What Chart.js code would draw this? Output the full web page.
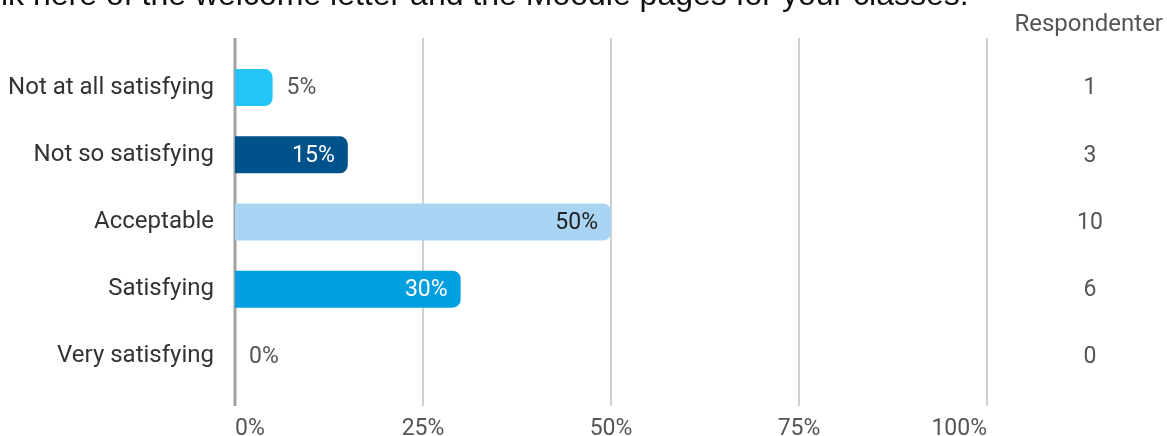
<!DOCTYPE html>
<html>
<head>
<meta charset="utf-8">
<script src="https://cdn.jsdelivr.net/npm/chart.js@4"></script>
<style>
  html, body { margin: 0; padding: 0; background: #fff; overflow: hidden; }
</style>
</head>
<body>
<canvas id="chart" width="1167" height="436"></canvas>
<script>
// ---- data ----
const categories = ['Not at all satisfying', 'Not so satisfying', 'Acceptable', 'Satisfying', 'Very satisfying'];
const percents = [5, 15, 50, 30, 0];
const respondents = [1, 3, 10, 6, 0];
const xTicks = [0, 25, 50, 75, 100];
const headerText = 'lk here of the welcome letter and the Moodle pages for your classes.';

// ---- styles ----
const barColors = ['#23c5f6', '#00528a', '#a9d4f4', '#009fe0', '#cccccc'];
const insideLabelColors = ['#ffffff', '#ffffff', '#222222', '#ffffff', '#ffffff'];

// grid lines that run a bit past the plot area, zero line heavier
const gridPlugin = {
  id: 'gridLines',
  beforeDatasetsDraw(chart) {
    const { ctx, chartArea, scales } = chart;
    ctx.save();
    xTicks.forEach(function(t) {
      const x = Math.round(scales.x.getPixelForValue(t));
      ctx.beginPath();
      ctx.strokeStyle = t === 0 ? '#a0a0a0' : '#b0b0b0';
      ctx.lineWidth = t === 0 ? 3 : 1.2;
      ctx.moveTo(x, chartArea.top - 16);
      ctx.lineTo(x, chartArea.bottom + 16);
      ctx.stroke();
    });
    ctx.restore();
  }
};

// value labels, respondents column and the clipped heading
const labelPlugin = {
  id: 'valueLabels',
  afterDatasetsDraw(chart) {
    const { ctx, scales } = chart;
    const meta = chart.getDatasetMeta(0);
    ctx.save();
    ctx.font = '23px Roboto, sans-serif';
    ctx.textBaseline = 'middle';
    meta.data.forEach(function(bar, i) {
      const txt = percents[i] + '%';
      if (percents[i] >= 10) {
        ctx.textAlign = 'right';
        ctx.fillStyle = insideLabelColors[i];
        ctx.fillText(txt, bar.x - 13, bar.y + 1);
      } else {
        ctx.textAlign = 'left';
        ctx.fillStyle = '#555555';
        ctx.fillText(txt, bar.x + 14, bar.y + 1);
      }
    });

    // respondents column
    ctx.font = '23px Roboto, sans-serif';
    ctx.fillStyle = '#555555';
    ctx.textAlign = 'center';
    respondents.forEach(function(n, i) {
      ctx.fillText(String(n), 1090, scales.y.getPixelForValue(i) + 1);
    });
    ctx.font = '24px Roboto, sans-serif';
    ctx.textAlign = 'right';
    ctx.fillText('Respondenter', 1163, 25);

    // heading cut off by the top edge
    ctx.font = '32px "Liberation Sans", Arial, sans-serif';
    ctx.fillStyle = '#111111';
    ctx.textAlign = 'left';
    ctx.textBaseline = 'alphabetic';
    ctx.fillText(headerText, 1, 5);
    ctx.restore();
  }
};

new Chart(document.getElementById('chart'), {
  type: 'bar',
  data: {
    labels: categories,
    datasets: [{
      data: percents,
      backgroundColor: barColors,
      borderRadius: 8,
      borderSkipped: 'start',
      barPercentage: 0.55,
      categoryPercentage: 1.0
    }]
  },
  options: {
    indexAxis: 'y',
    responsive: false,
    animation: false,
    layout: { padding: { top: 54, right: 180, bottom: 0, left: 0 } },
    plugins: {
      legend: { display: false },
      tooltip: { enabled: false }
    },
    scales: {
      x: {
        min: 0,
        max: 100,
        border: { display: false },
        grid: { display: false },
        afterBuildTicks(scale) {
          scale.ticks = xTicks.map(function(v) { return { value: v }; });
        },
        afterFit(scale) { scale.height = 46; },
        ticks: {
          align: 'inner',
          padding: 17,
          color: '#555555',
          font: { family: 'Roboto, sans-serif', size: 23 },
          callback: function(v) { return v + '%'; }
        }
      },
      y: {
        border: { display: false },
        grid: { display: false },
        afterFit(scale) { scale.width = 235; },
        ticks: {
          padding: 13,
          color: '#333333',
          font: { family: 'Roboto, sans-serif', size: 24 }
        }
      }
    }
  },
  plugins: [gridPlugin, labelPlugin]
});
</script>
</body>
</html>
